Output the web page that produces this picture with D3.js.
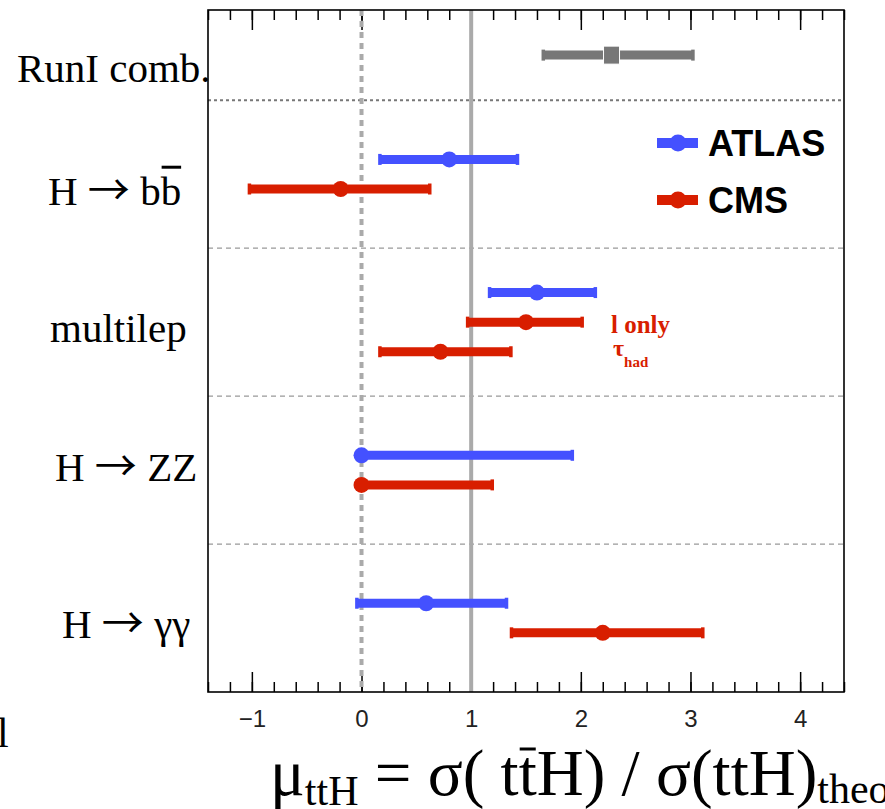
<!DOCTYPE html>
<html>
<head>
<meta charset="utf-8">
<script src="https://cdn.jsdelivr.net/npm/d3@7"></script>
<style>
  html, body { margin: 0; padding: 0; background: #ffffff; }
  svg { display: block; }
</style>
</head>
<body>
<div id="chart"></div>
<script>
// ---------------- DATA ----------------
const categories = ["RunI comb.", "H \u2192 bb", "multilep", "H \u2192 ZZ", "H \u2192 \u03b3\u03b3"];
const experiments = ["ATLAS", "CMS"];
// one entry per measurement row (top to bottom)
const rowCategory   = [0, 1, 1, 2, 2, 2, 3, 3, 4, 4];
const rowExperiment = ["comb", "ATLAS", "CMS", "ATLAS", "CMS", "CMS", "ATLAS", "CMS", "ATLAS", "CMS"];
const rowMu   = [2.28, 0.80, -0.19, 1.60, 1.50, 0.72, 0.00, 0.00, 0.59, 2.20];
const rowLow  = [1.66, 0.17, -1.02, 1.17, 0.97, 0.17, 0.00, 0.00, -0.04, 1.37];
const rowHigh = [3.02, 1.42, 0.62, 2.13, 2.01, 1.36, 1.92, 1.19, 1.32, 3.11];
const xTickMajor = [-1, 0, 1, 2, 3, 4];
const xTickMinor = d3.range(-1.4, 4.41, 0.2).map(v => Math.round(v * 10) / 10);
const xDomain = [-1.4, 4.4];

// ---------------- LAYOUT ----------------
const W = 885, H = 809;
const plot = { left: 208, right: 844, top: 10, bottom: 692 };
const colors = { ATLAS: "#4451ff", CMS: "#d81e00", comb: "#777777" };
const serif = "'Liberation Serif', 'Times New Roman', serif";
const sans = "'Liberation Sans', Arial, Helvetica, sans-serif";
const arrowFont = "'Noto Sans CJK JP', 'DejaVu Sans', sans-serif";

const svg = d3.select("#chart").append("svg")
  .attr("width", W).attr("height", H)
  .attr("viewBox", `0 0 ${W} ${H}`);

svg.append("rect").attr("width", W).attr("height", H).attr("fill", "#fff");

const x = d3.scaleLinear().domain(xDomain).range([plot.left, plot.right]);
const yTopUnit = 4.61;
const y = d3.scaleLinear().domain([0, yTopUnit]).range([plot.bottom, plot.top]);
const nCat = categories.length;
function groupCenter(ci) {
  const g = nCat - 1 - ci;
  return g === nCat - 1 ? (g + yTopUnit) / 2 : g + 0.5;
}
const rowsPerCat = categories.map((c, ci) => rowCategory.filter(v => v === ci).length);
const rowY = rowCategory.map((ci, i) => {
  const k = rowCategory.slice(0, i).filter(v => v === ci).length;
  const n = rowsPerCat[ci];
  return y(groupCenter(ci) + ((n - 1) / 2 - k) * 0.2);
});

// ---------------- AXES / TICKS ----------------
const gBottomMinor = svg.append("g").attr("transform", `translate(0,${plot.bottom})`)
  .call(d3.axisBottom(x).tickValues(xTickMinor).tickSize(-10).tickFormat(""));
const gBottomMajor = svg.append("g").attr("transform", `translate(0,${plot.bottom})`)
  .call(d3.axisBottom(x).tickValues(xTickMajor).tickSize(-20).tickFormat(d3.format("d")));
const gTopMinor = svg.append("g").attr("transform", `translate(0,${plot.top})`)
  .call(d3.axisTop(x).tickValues(xTickMinor).tickSize(-10).tickFormat(""));
const gTopMajor = svg.append("g").attr("transform", `translate(0,${plot.top})`)
  .call(d3.axisTop(x).tickValues(xTickMajor).tickSize(-20).tickFormat(""));
[gBottomMinor, gBottomMajor, gTopMinor, gTopMajor].forEach(g => {
  g.select(".domain").remove();
  g.selectAll(".tick line").attr("stroke", "#000").attr("stroke-width", 1.5);
});
gBottomMajor.selectAll(".tick text")
  .attr("y", 727 - plot.bottom).attr("dy", 0)
  .style("font-family", sans).style("font-size", "24px").attr("fill", "#222");

// ---------------- SEPARATORS ----------------
const sepUnits = d3.range(1, nCat);
svg.append("g").selectAll("line").data(sepUnits).join("line")
  .attr("x1", plot.left).attr("x2", plot.right)
  .attr("y1", d => y(d)).attr("y2", d => y(d))
  .attr("stroke", d => d === nCat - 1 ? "#777" : "#999")
  .attr("stroke-width", d => d === nCat - 1 ? 2 : 1.3)
  .attr("stroke-dasharray", d => d === nCat - 1 ? "3,3" : "5,4");

// reference lines mu = 0 (dashed) and mu = 1 (solid)
svg.append("line").attr("x1", x(0)).attr("x2", x(0)).attr("y1", plot.top).attr("y2", plot.bottom)
  .attr("stroke", "#aaaaaa").attr("stroke-width", 4).attr("stroke-dasharray", "6,5");
svg.append("line").attr("x1", x(1)).attr("x2", x(1)).attr("y1", plot.top).attr("y2", plot.bottom)
  .attr("stroke", "#aaaaaa").attr("stroke-width", 4);

// frame
svg.append("rect").attr("x", plot.left).attr("y", plot.top)
  .attr("width", plot.right - plot.left).attr("height", plot.bottom - plot.top)
  .attr("fill", "none").attr("stroke", "#000").attr("stroke-width", 1.6);

// ---------------- BARS ----------------
const rows = rowMu.map((m, i) => ({ mu: m, lo: rowLow[i], hi: rowHigh[i], exp: rowExperiment[i], y: rowY[i] }));
const gBars = svg.append("g");
const bar = gBars.selectAll("g.row").data(rows).join("g").attr("class", "row");
bar.append("line")
  .attr("x1", d => x(d.lo)).attr("x2", d => x(d.hi))
  .attr("y1", d => d.y).attr("y2", d => d.y)
  .attr("stroke", d => colors[d.exp]).attr("stroke-width", 9);
bar.append("rect")
  .attr("x", d => x(d.lo) - 2).attr("y", d => d.y - 5.5).attr("width", 3.5).attr("height", 11)
  .attr("fill", d => colors[d.exp]);
bar.append("rect")
  .attr("x", d => x(d.hi) - 1.5).attr("y", d => d.y - 5.5).attr("width", 3.5).attr("height", 11)
  .attr("fill", d => colors[d.exp]);
bar.filter(d => d.exp !== "comb").append("circle")
  .attr("cx", d => x(d.mu)).attr("cy", d => d.y).attr("r", 8)
  .attr("fill", d => colors[d.exp]);
bar.filter(d => d.exp === "comb").append("rect")
  .attr("x", d => x(d.mu) - 8).attr("y", d => d.y - 9).attr("width", 16).attr("height", 18)
  .attr("fill", d => colors[d.exp]).attr("stroke", "#fff").attr("stroke-width", 1);

// ---------------- CATEGORY LABELS ----------------
const labelX = [17, 48, 50, 55, 62];
const labelDy = [27, 31, 20, 11, 20];
categories.forEach((c, ci) => {
  const base = y(groupCenter(ci)) + labelDy[ci];
  const t = svg.append("text")
    .attr("x", labelX[ci]).attr("y", base)
    .style("font-family", serif).style("font-size", "41px").attr("fill", "#000")
    .style("white-space", "pre");
  const parts = c.split("\u2192");
  parts.forEach((p, pi) => {
    if (pi > 0) t.append("tspan").style("font-family", arrowFont).style("font-size", "42px").text("\u2192");
    t.append("tspan").text(p);
  });
  if (ci === 1) {
    const n = c.length;
    const ext = t.node().getExtentOfChar(n - 1);
    svg.append("line").attr("x1", ext.x + 1).attr("x2", ext.x + ext.width)
      .attr("y1", base - 38).attr("y2", base - 38)
      .attr("stroke", "#000").attr("stroke-width", 3);
  }
});

// stray clipped glyph at left edge
svg.append("text").attr("x", -3).attr("y", 747)
  .style("font-family", serif).style("font-size", "42px").text("l");

// ---------------- ANNOTATIONS ----------------
svg.append("text").attr("x", 611).attr("y", 333)
  .style("font-family", serif).style("font-size", "25px").style("font-weight", "bold")
  .attr("fill", colors.CMS).style("white-space", "pre").text("l only");
const tau = svg.append("text").attr("x", 613).attr("y", 356)
  .style("font-family", serif).style("font-weight", "bold").attr("fill", colors.CMS);
tau.append("tspan").style("font-size", "24px").text("\u03c4");
tau.append("tspan").style("font-size", "15px").attr("dy", 11).text("had");

// ---------------- LEGEND ----------------
const legY = [143, 200];
experiments.forEach((e, i) => {
  const g = svg.append("g");
  g.append("line").attr("x1", 657).attr("x2", 698).attr("y1", legY[i]).attr("y2", legY[i])
    .attr("stroke", colors[e]).attr("stroke-width", 10);
  g.append("circle").attr("cx", 678).attr("cy", legY[i]).attr("r", 8.5).attr("fill", colors[e]);
  g.append("text").attr("x", 708).attr("y", legY[i] + 13)
    .style("font-family", sans).style("font-weight", "bold").style("font-size", "36px")
    .attr("fill", "#000").text(e);
});

// ---------------- AXIS TITLE ----------------
const titleBase = 795;
const title = svg.append("text").attr("x", 270).attr("y", titleBase)
  .style("font-family", serif).style("font-size", "65px").style("white-space", "pre").attr("fill", "#000");
title.append("tspan").text("\u03bc");
title.append("tspan").style("font-size", "42px").attr("dy", 10).text("ttH");
title.append("tspan").attr("dy", -10).text(" = \u03c3( t");
title.append("tspan").text("t");
title.append("tspan").text("H) / \u03c3(ttH)");
title.append("tspan").style("font-size", "42px").attr("dy", 8).text("theo");
{
  const idx = 1 + 3 + 7; // barred t
  const ext = title.node().getExtentOfChar(idx);
  svg.append("line").attr("x1", ext.x + 1).attr("x2", ext.x + ext.width - 1)
    .attr("y1", titleBase - 46).attr("y2", titleBase - 46)
    .attr("stroke", "#000").attr("stroke-width", 3);
}
</script>
</body>
</html>
